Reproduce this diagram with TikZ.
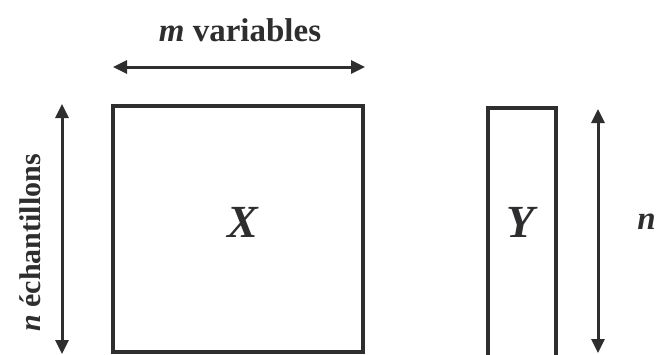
\documentclass[tikz,border=0pt]{standalone}
\usepackage{fontspec}
\setmainfont{Liberation Serif}
\usetikzlibrary{arrows.meta}
\definecolor{ink}{HTML}{2E2E30}
\begin{document}
\begin{tikzpicture}[x=1pt,y=-1pt,
  matbox/.style={draw=ink, line width=3.2pt, inner sep=0pt},
  dimarrow/.style={draw=ink, line width=3pt, {Triangle[length=14pt,width=13pt]}-{Triangle[length=14pt,width=13pt]}},
  lbl/.style={text=ink, font=\bfseries\fontsize{33}{33}\selectfont, inner sep=0pt},
  matlbl/.style={text=ink, font=\bfseries\itshape\fontsize{46}{46}\selectfont, inner sep=0pt}]
\clip (0,0) rectangle (658,354);
\useasboundingbox (0,0) rectangle (658,354);
\node[matbox, minimum width=250pt, minimum height=246pt] (X) at (238,229) {};
\node[matbox, minimum width=68pt, minimum height=254pt] (Y) at (522,235) {};
\node[matlbl] (xl) at (243,222) {X};
\node[matlbl] (yl) at (521,222) {Y};
\coordinate (hl) at (113,67);
\coordinate (hr) at (365,67);
\draw[dimarrow] (hl) -- (hr);
\node[lbl] (mv) at (240,30) {\textit{m} variables};
\coordinate (lt) at (62,104);
\coordinate (lb) at (62,354);
\draw[dimarrow] (lt) -- (lb);
\node[lbl, font=\bfseries\fontsize{30}{30}\selectfont, rotate=90] (ne) at (30,243) {\textit{n} échantillons};
\coordinate (rt) at (598,109);
\coordinate (rb) at (598,353);
\draw[dimarrow] (rt) -- (rb);
\node[lbl, anchor=east] (nr) at (656,222) {\textit{n}};
\end{tikzpicture}
\end{document}
